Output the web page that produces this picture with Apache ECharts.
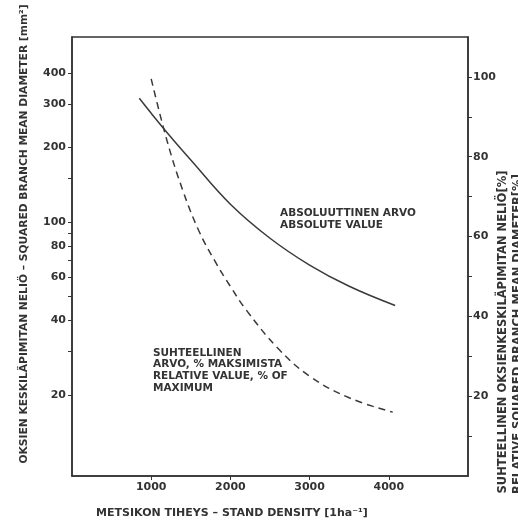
<!DOCTYPE html>
<html>
<head>
<meta charset="utf-8">
<script src="https://cdn.jsdelivr.net/npm/echarts@6/dist/echarts.min.js"></script>
<style>
  html, body { margin: 0; padding: 0; background: #fff; }
  #chart { width: 518px; height: 523px; }
</style>
</head>
<body>
<div id="chart"></div>
<script>
// absolute value (left, log axis, mm2)
const absDensity = [850, 1000, 1250, 1500, 2000, 2500, 3000, 3500, 4080];
const absValue = [316, 275, 220, 178, 118, 86, 67, 55, 46];
// relative value (right axis, % of maximum)
const relDensity = [1000, 1200, 1400, 1600, 1800, 2000, 2200, 2600, 3000, 3500, 4050];
const relValue = [99.5, 84, 71.5, 61.5, 54, 47.5, 41.6, 32, 25, 19.6, 16];

const xTicks = [1000, 2000, 3000, 4000];
const leftLabels = [20, 40, 60, 80, 100, 200, 300, 400];
const leftTicks = [20, 30, 40, 50, 60, 70, 80, 90, 100, 150, 200, 300, 400];
const rightLabels = [20, 40, 60, 80, 100];
const rightTicks = [10, 20, 30, 40, 50, 60, 70, 80, 90, 100];

const ink = '#333';
const font = 'DejaVu Sans';

let chart = echarts.init(document.getElementById('chart'), null, { renderer: 'canvas' });

let lab = { color: ink, fontFamily: font, fontWeight: 'bold', fontSize: 11 };
let axLine = { show: true, lineStyle: { color: ink, width: 1.5 } };

let option = {
  backgroundColor: '#fff',
  animation: false,
  grid: {
    left: 72, right: 50, top: 37, bottom: 47,
    show: true, borderColor: ink, borderWidth: 1.5
  },
  xAxis: {
    type: 'value', min: 0, max: 5000,
    axisLine: axLine,
    splitLine: { show: false },
    axisTick: { customValues: xTicks, length: 4, lineStyle: { color: ink } },
    axisLabel: Object.assign({ customValues: xTicks, margin: 6, formatter: (v) => String(v) }, lab)
  },
  yAxis: [
    {
      type: 'log', logBase: 10, min: 9.42, max: 559, position: 'left',
      axisLine: axLine,
      splitLine: { show: false },
      axisTick: { customValues: leftTicks, length: 4, lineStyle: { color: ink } },
      axisLabel: Object.assign({ customValues: leftLabels, margin: 6 }, lab)
    },
    {
      type: 'value', min: 0, max: 110, position: 'right',
      axisLine: axLine,
      splitLine: { show: false },
      axisTick: { customValues: rightTicks, length: 4, lineStyle: { color: ink } },
      axisLabel: Object.assign({ customValues: rightLabels, margin: 5 }, lab)
    }
  ],
  series: [
    {
      name: 'absolute',
      type: 'line', yAxisIndex: 0, smooth: 0.4, showSymbol: false,
      data: absDensity.map((d, i) => [d, absValue[i]]),
      lineStyle: { color: '#3a3a3a', width: 1.5 }
    },
    {
      name: 'relative',
      type: 'line', yAxisIndex: 1, smooth: 0.4, showSymbol: false,
      data: relDensity.map((d, i) => [d, relValue[i]]),
      lineStyle: { color: '#3a3a3a', width: 1.5, type: [7, 5] }
    }
  ],
  graphic: [
    {
      type: 'text', x: 24, y: 234, rotation: Math.PI / 2,
      style: {
        text: 'OKSIEN KESKILÄPIMITAN NELIÖ – SQUARED BRANCH MEAN DIAMETER [mm²]',
        fill: ink, font: 'bold 10.7px "DejaVu Sans"',
        align: 'center', verticalAlign: 'middle'
      }
    },
    {
      type: 'text', x: 503, y: 332, rotation: Math.PI / 2,
      style: {
        text: 'SUHTEELLINEN OKSIENKESKILÄPIMITAN NELIÖ[%]',
        fill: ink, font: 'bold 11.5px "DejaVu Sans"',
        align: 'center', verticalAlign: 'middle'
      }
    },
    {
      type: 'text', x: 518, y: 334, rotation: Math.PI / 2,
      style: {
        text: 'RELATIVE SQUARED BRANCH MEAN DIAMETER[%]',
        fill: ink, font: 'bold 11.5px "DejaVu Sans"',
        align: 'center', verticalAlign: 'middle'
      }
    },
    {
      type: 'text', x: 232, y: 513,
      style: {
        text: 'METSIKON TIHEYS – STAND DENSITY [1ha⁻¹]',
        fill: ink, font: 'bold 11px "DejaVu Sans"',
        align: 'center', verticalAlign: 'middle'
      }
    },
    {
      type: 'text', x: 280, y: 207,
      style: {
        text: 'ABSOLUUTTINEN ARVO\nABSOLUTE VALUE',
        fill: ink, font: 'bold 10.5px "DejaVu Sans"', lineHeight: 12.5,
        align: 'left', verticalAlign: 'top'
      }
    },
    {
      type: 'text', x: 153, y: 347,
      style: {
        text: 'SUHTEELLINEN\nARVO, % MAKSIMISTA\nRELATIVE VALUE, % OF\nMAXIMUM',
        fill: ink, font: 'bold 10.5px "DejaVu Sans"', lineHeight: 11.8,
        align: 'left', verticalAlign: 'top'
      }
    }
  ]
};

chart.setOption(option);
</script>
</body>
</html>
